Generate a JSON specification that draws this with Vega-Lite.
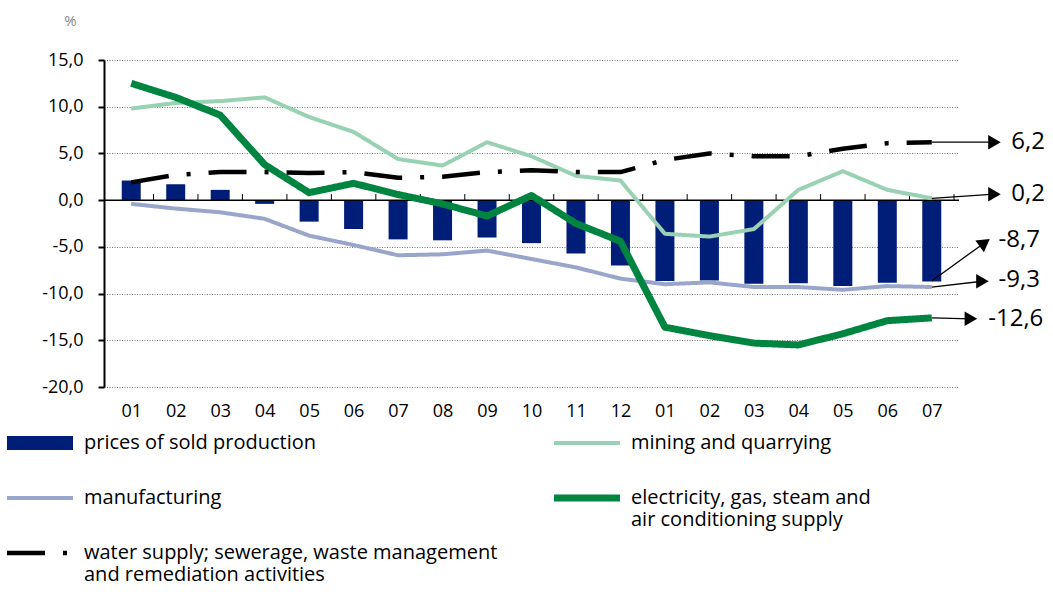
{
  "$schema": "https://vega.github.io/schema/vega-lite/v6.json",
  "width": 855,
  "height": 327,
  "autosize": {"type": "none"},
  "padding": {"left": 104, "top": 60, "right": 94, "bottom": 208},
  "background": "white",
  "config": {
    "font": "Open Sans",
    "view": {"stroke": null}
  },
  "datasets": {
    "series": [
      {"m":1,"s":"prices","v":2.1},{"m":2,"s":"prices","v":1.7},{"m":3,"s":"prices","v":1.1},{"m":4,"s":"prices","v":-0.4},{"m":5,"s":"prices","v":-2.3},{"m":6,"s":"prices","v":-3.1},{"m":7,"s":"prices","v":-4.2},{"m":8,"s":"prices","v":-4.3},{"m":9,"s":"prices","v":-4.0},{"m":10,"s":"prices","v":-4.6},{"m":11,"s":"prices","v":-5.7},{"m":12,"s":"prices","v":-7.0},{"m":13,"s":"prices","v":-8.65},{"m":14,"s":"prices","v":-8.6},{"m":15,"s":"prices","v":-8.95},{"m":16,"s":"prices","v":-8.9},{"m":17,"s":"prices","v":-9.2},{"m":18,"s":"prices","v":-8.85},{"m":19,"s":"prices","v":-8.7},
      {"m":1,"s":"manufacturing","v":-0.4},{"m":2,"s":"manufacturing","v":-0.9},{"m":3,"s":"manufacturing","v":-1.3},{"m":4,"s":"manufacturing","v":-2.0},{"m":5,"s":"manufacturing","v":-3.8},{"m":6,"s":"manufacturing","v":-4.8},{"m":7,"s":"manufacturing","v":-5.9},{"m":8,"s":"manufacturing","v":-5.8},{"m":9,"s":"manufacturing","v":-5.4},{"m":10,"s":"manufacturing","v":-6.3},{"m":11,"s":"manufacturing","v":-7.2},{"m":12,"s":"manufacturing","v":-8.4},{"m":13,"s":"manufacturing","v":-9.0},{"m":14,"s":"manufacturing","v":-8.8},{"m":15,"s":"manufacturing","v":-9.3},{"m":16,"s":"manufacturing","v":-9.3},{"m":17,"s":"manufacturing","v":-9.6},{"m":18,"s":"manufacturing","v":-9.2},{"m":19,"s":"manufacturing","v":-9.3},
      {"m":1,"s":"mining","v":9.8},{"m":2,"s":"mining","v":10.4},{"m":3,"s":"mining","v":10.6},{"m":4,"s":"mining","v":11.0},{"m":5,"s":"mining","v":8.9},{"m":6,"s":"mining","v":7.3},{"m":7,"s":"mining","v":4.4},{"m":8,"s":"mining","v":3.7},{"m":9,"s":"mining","v":6.2},{"m":10,"s":"mining","v":4.7},{"m":11,"s":"mining","v":2.6},{"m":12,"s":"mining","v":2.1},{"m":13,"s":"mining","v":-3.6},{"m":14,"s":"mining","v":-3.9},{"m":15,"s":"mining","v":-3.1},{"m":16,"s":"mining","v":1.1},{"m":17,"s":"mining","v":3.1},{"m":18,"s":"mining","v":1.1},{"m":19,"s":"mining","v":0.2},
      {"m":1,"s":"electricity","v":12.5},{"m":2,"s":"electricity","v":11.0},{"m":3,"s":"electricity","v":9.1},{"m":4,"s":"electricity","v":3.8},{"m":5,"s":"electricity","v":0.8},{"m":6,"s":"electricity","v":1.8},{"m":7,"s":"electricity","v":0.6},{"m":8,"s":"electricity","v":-0.4},{"m":9,"s":"electricity","v":-1.7},{"m":10,"s":"electricity","v":0.5},{"m":11,"s":"electricity","v":-2.5},{"m":12,"s":"electricity","v":-4.4},{"m":13,"s":"electricity","v":-13.6},{"m":14,"s":"electricity","v":-14.5},{"m":15,"s":"electricity","v":-15.3},{"m":16,"s":"electricity","v":-15.5},{"m":17,"s":"electricity","v":-14.3},{"m":18,"s":"electricity","v":-12.9},{"m":19,"s":"electricity","v":-12.6},
      {"m":1,"s":"water","v":1.9},{"m":2,"s":"water","v":2.7},{"m":3,"s":"water","v":3.0},{"m":4,"s":"water","v":3.0},{"m":5,"s":"water","v":2.9},{"m":6,"s":"water","v":3.0},{"m":7,"s":"water","v":2.4},{"m":8,"s":"water","v":2.5},{"m":9,"s":"water","v":3.0},{"m":10,"s":"water","v":3.2},{"m":11,"s":"water","v":3.0},{"m":12,"s":"water","v":3.0},{"m":13,"s":"water","v":4.3},{"m":14,"s":"water","v":5.0},{"m":15,"s":"water","v":4.7},{"m":16,"s":"water","v":4.7},{"m":17,"s":"water","v":5.5},{"m":18,"s":"water","v":6.1},{"m":19,"s":"water","v":6.2}
    ],
    "ticks": [
      {"b":1.5},{"b":2.5},{"b":3.5},{"b":4.5},{"b":5.5},{"b":6.5},{"b":7.5},{"b":8.5},{"b":9.5},{"b":10.5},{"b":11.5},{"b":12.5},{"b":13.5},{"b":14.5},{"b":15.5},{"b":16.5},{"b":17.5},{"b":18.5},{"b":19.5}
    ],
    "notes": [
      {"label":"6,2","x0":19,"y0":6.2,"x1":20.41,"y1":6.2,"tx":20.79,"ty":6.2},
      {"label":"0,2","x0":19,"y0":0.2,"x1":20.41,"y1":0.64,"tx":20.79,"ty":0.64},
      {"label":"-8,7","x0":19,"y0":-8.65,"x1":20.19,"y1":-4.55,"tx":20.5,"ty":-4.3},
      {"label":"-9,3","x0":19,"y0":-9.3,"x1":20.14,"y1":-8.68,"tx":20.5,"ty":-8.6},
      {"label":"-12,6","x0":19,"y0":-12.6,"x1":19.88,"y1":-12.7,"tx":20.27,"ty":-12.7}
    ]
  },
  "layer": [
    {
      "data": {"name": "series"},
      "transform": [{"filter": "datum.s === 'prices'"}],
      "mark": {"type": "bar", "width": 19, "color": "#001E78"},
      "encoding": {
        "x": {
          "field": "m", "type": "quantitative",
          "scale": {"domain": [0.5, 19.5], "nice": false, "zero": false},
          "axis": {
            "values": [1,2,3,4,5,6,7,8,9,10,11,12,13,14,15,16,17,18,19],
            "labelExpr": "format((datum.value - 1) % 12 + 1, '02d')",
            "domain": false, "ticks": false, "grid": false,
            "labelFontSize": 18, "labelColor": "#000", "labelPadding": 15,
            "labelFlush": false, "labelOverlap": false, "title": null
          }
        },
        "y": {
          "field": "v", "type": "quantitative",
          "scale": {"domain": [-20, 15], "nice": false, "zero": false},
          "axis": {
            "values": [-20,-15,-10,-5,0,5,10,15],
            "labelExpr": "replace(replace(format(datum.value, '.1f'), '.', ','), '\u2212', '-')",
            "labelFontSize": 18, "labelColor": "#000", "labelPadding": 15,
            "tickSize": 6, "tickColor": "#000", "tickWidth": 2,
            "domainColor": "#000", "domainWidth": 2,
            "grid": true, "gridColor": "#777", "gridDash": [1, 1.5], "gridWidth": 1,
            "title": "%", "titleAngle": 0, "titleX": -34, "titleY": -40,
            "titleColor": "#888", "titleFontSize": 15, "titleFontWeight": "normal",
            "titleAlign": "center", "titleBaseline": "middle"
          }
        }
      }
    },
    {
      "data": {"values": [{}]},
      "mark": {"type": "rule", "color": "#000", "strokeWidth": 1.5},
      "encoding": {"y": {"datum": 0, "type": "quantitative"}}
    },
    {
      "data": {"name": "ticks"},
      "mark": {"type": "rule", "color": "#000", "strokeWidth": 1},
      "encoding": {
        "x": {"field": "b", "type": "quantitative"},
        "y": {"datum": 0, "type": "quantitative"},
        "y2": {"datum": 0.65}
      }
    },
    {
      "data": {"name": "series"},
      "transform": [{"filter": "datum.s !== 'prices'"}],
      "mark": {"type": "line", "strokeJoin": "round", "strokeCap": "butt"},
      "encoding": {
        "x": {"field": "m", "type": "quantitative"},
        "y": {"field": "v", "type": "quantitative"},
        "color": {
          "field": "s", "type": "nominal",
          "scale": {
            "domain": ["prices", "mining", "manufacturing", "electricity", "water"],
            "range": ["#001E78", "#99D1B4", "#9AA5CC", "#008540", "#000000"]
          },
          "legend": {
            "orient": "none", "legendX": -104, "legendY": 371,
            "direction": "horizontal",
            "columns": 2, "title": null,
            "symbolType": "stroke", "symbolSize": 4356,
            "clipHeight": 24,
            "labelFontSize": 20, "labelColor": "#000", "labelLimit": 700,
            "labelOffset": 4, "columnPadding": 49, "rowPadding": 11,
            "labelLineHeight": 25,
            "labelExpr": "datum.label == 'prices' ? ['prices of sold production', ' '] : datum.label == 'mining' ? ['mining and quarrying', ' '] : datum.label == 'manufacturing' ? ['manufacturing', ' '] : datum.label == 'electricity' ? ['electricity, gas, steam and', 'air conditioning supply'] : ['water supply; sewerage, waste management', 'and remediation activities']"
          }
        },
        "strokeWidth": {
          "field": "s", "type": "nominal",
          "scale": {
            "type": "ordinal",
            "domain": ["prices", "mining", "manufacturing", "electricity", "water"],
            "range": [14, 4, 4, 7, 4.5]
          }
        },
        "strokeDash": {
          "field": "s", "type": "nominal",
          "scale": {
            "domain": ["prices", "mining", "manufacturing", "electricity", "water"],
            "range": [[1, 0], [1, 0], [1, 0], [1, 0], [38, 18, 4, 18]]
          }
        }
      }
    },
    {
      "data": {"name": "notes"},
      "mark": {"type": "rule", "color": "#000", "strokeWidth": 1.3},
      "encoding": {
        "x": {"field": "x0", "type": "quantitative"},
        "y": {"field": "y0", "type": "quantitative"},
        "x2": {"field": "x1"},
        "y2": {"field": "y1"}
      }
    },
    {
      "data": {"name": "notes"},
      "transform": [{"filter": "datum.label !== '-8,7'"}],
      "mark": {"type": "point", "shape": "triangle-right", "filled": true, "color": "#000", "size": 210, "opacity": 1},
      "encoding": {
        "x": {"field": "x1", "type": "quantitative"},
        "y": {"field": "y1", "type": "quantitative"}
      }
    },
    {
      "data": {"name": "notes"},
      "transform": [{"filter": "datum.label === '-8,7'"}],
      "mark": {"type": "point", "shape": "triangle-right", "filled": true, "color": "#000", "size": 210, "opacity": 1, "angle": 324},
      "encoding": {
        "x": {"field": "x1", "type": "quantitative"},
        "y": {"field": "y1", "type": "quantitative"}
      }
    },
    {
      "data": {"name": "notes"},
      "mark": {"type": "text", "align": "left", "baseline": "middle", "fontSize": 24, "color": "#000"},
      "encoding": {
        "x": {"field": "tx", "type": "quantitative"},
        "y": {"field": "ty", "type": "quantitative"},
        "text": {"field": "label"}
      }
    }
  ]
}
